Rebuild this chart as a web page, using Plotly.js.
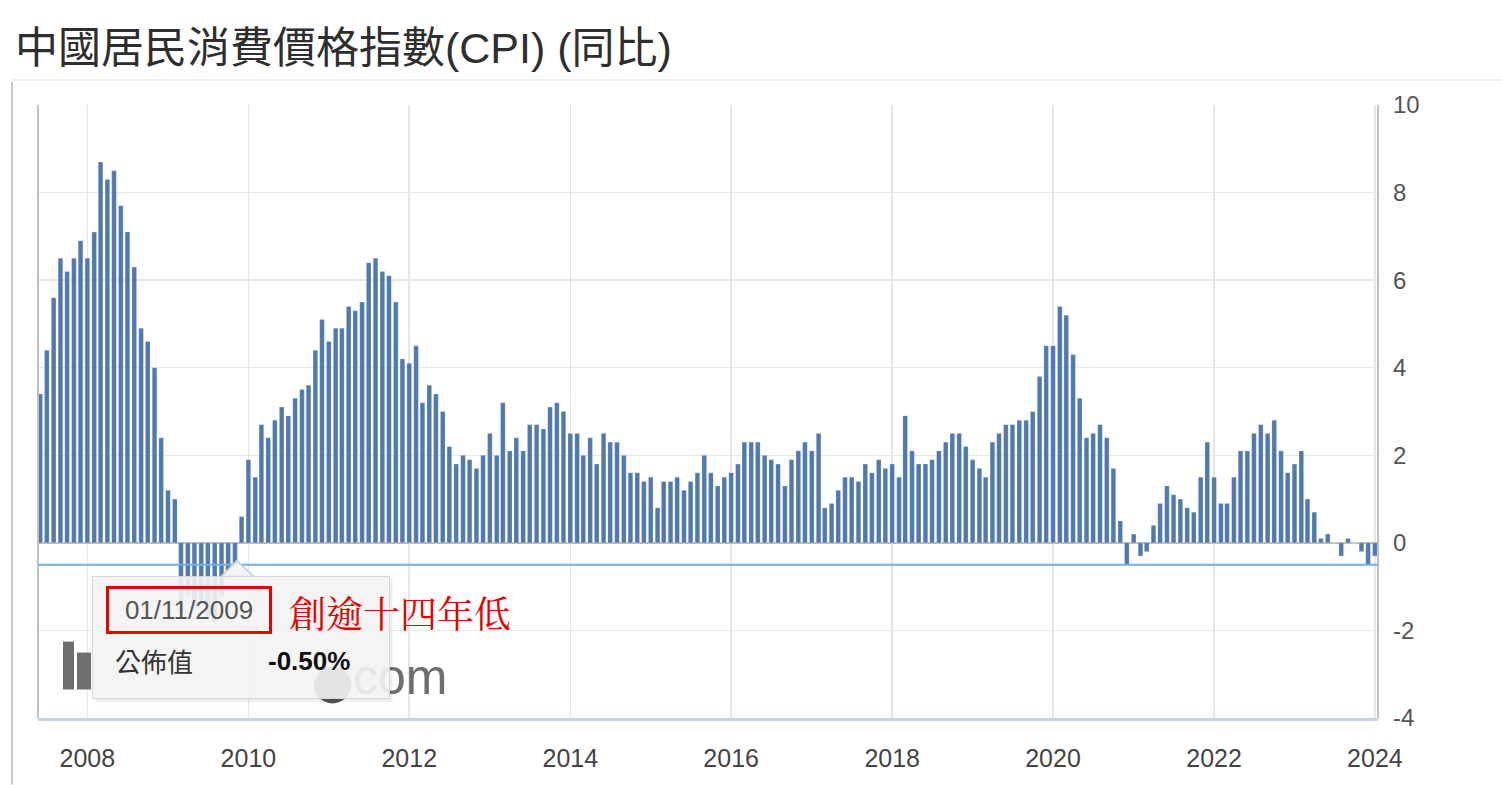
<!DOCTYPE html>
<html>
<head>
<meta charset="utf-8">
<script src="https://cdn.plot.ly/plotly-3.0.1.min.js"></script>
<style>
html,body{margin:0;padding:0;background:#fff;}
#chart{width:1502px;height:785px;}
</style>
</head>
<body>
<div id="chart"></div>
<script>
// China CPI YoY (%), by reference month; plotted at release month (reference month + 1)
const cpi2007 = [3.4, 4.4, 5.6, 6.5, 6.2, 6.5, 6.9, 6.5]; // May–Dec
const cpi2008 = [7.1, 8.7, 8.3, 8.5, 7.7, 7.1, 6.3, 4.9, 4.6, 4.0, 2.4, 1.2];
const cpi2009 = [1.0, -1.6, -1.2, -1.5, -1.4, -1.7, -1.8, -1.2, -0.8, -0.5, 0.6, 1.9];
const cpi2010 = [1.5, 2.7, 2.4, 2.8, 3.1, 2.9, 3.3, 3.5, 3.6, 4.4, 5.1, 4.6];
const cpi2011 = [4.9, 4.9, 5.4, 5.3, 5.5, 6.4, 6.5, 6.2, 6.1, 5.5, 4.2, 4.1];
const cpi2012 = [4.5, 3.2, 3.6, 3.4, 3.0, 2.2, 1.8, 2.0, 1.9, 1.7, 2.0, 2.5];
const cpi2013 = [2.0, 3.2, 2.1, 2.4, 2.1, 2.7, 2.7, 2.6, 3.1, 3.2, 3.0, 2.5];
const cpi2014 = [2.5, 2.0, 2.4, 1.8, 2.5, 2.3, 2.3, 2.0, 1.6, 1.6, 1.4, 1.5];
const cpi2015 = [0.8, 1.4, 1.4, 1.5, 1.2, 1.4, 1.6, 2.0, 1.6, 1.3, 1.5, 1.6];
const cpi2016 = [1.8, 2.3, 2.3, 2.3, 2.0, 1.9, 1.8, 1.3, 1.9, 2.1, 2.3, 2.1];
const cpi2017 = [2.5, 0.8, 0.9, 1.2, 1.5, 1.5, 1.4, 1.8, 1.6, 1.9, 1.7, 1.8];
const cpi2018 = [1.5, 2.9, 2.1, 1.8, 1.8, 1.9, 2.1, 2.3, 2.5, 2.5, 2.2, 1.9];
const cpi2019 = [1.7, 1.5, 2.3, 2.5, 2.7, 2.7, 2.8, 2.8, 3.0, 3.8, 4.5, 4.5];
const cpi2020 = [5.4, 5.2, 4.3, 3.3, 2.4, 2.5, 2.7, 2.4, 1.7, 0.5, -0.5, 0.2];
const cpi2021 = [-0.3, -0.2, 0.4, 0.9, 1.3, 1.1, 1.0, 0.8, 0.7, 1.5, 2.3, 1.5];
const cpi2022 = [0.9, 0.9, 1.5, 2.1, 2.1, 2.5, 2.7, 2.5, 2.8, 2.1, 1.6, 1.8];
const cpi2023 = [2.1, 1.0, 0.7, 0.1, 0.2, 0.0, -0.3, 0.1, 0.0, -0.2, -0.5, -0.3];

const yearBlocks = [
  [2007, 5, cpi2007], [2008, 1, cpi2008], [2009, 1, cpi2009], [2010, 1, cpi2010],
  [2011, 1, cpi2011], [2012, 1, cpi2012], [2013, 1, cpi2013], [2014, 1, cpi2014],
  [2015, 1, cpi2015], [2016, 1, cpi2016], [2017, 1, cpi2017], [2018, 1, cpi2018],
  [2019, 1, cpi2019], [2020, 1, cpi2020], [2021, 1, cpi2021], [2022, 1, cpi2022],
  [2023, 1, cpi2023]
];

const yTicks = [-4, -2, 0, 2, 4, 6, 8, 10];
const yTickText = ['-4', '-2', '0', '2', '4', '6', '8', '10'];
const highlightValue = -0.5;
const tooltipDate = '01/11/2009';
const tooltipLabel = '公佈值';
const tooltipValue = '-0.50%';
const noteText = '創逾十四年低';
const titleText = '中國居民消費價格指數(CPI) (同比)';

const dates = [], vals = [];
yearBlocks.forEach(([yr, m0, arr]) => {
  arr.forEach((v, i) => {
    let m = m0 + i + 1, y = yr;
    if (m > 12) { m -= 12; y += 1; }
    dates.push(y + '-' + String(m).padStart(2, '0') + '-01');
    vals.push(v);
  });
});

// pixel -> paper helpers (plot area 38..1378 x, 105..718.5 y)
const L = 38, R = 1378, T = 105, B = 718.5;
const px = x => (x - L) / (R - L);
const py = y => (B - y) / (B - T);

const sans = '"Liberation Sans", Arial, "Noto Sans CJK TC", sans-serif';

const trace = {
  type: 'bar', x: dates, y: vals,
  marker: { color: '#5079ad', line: { color: 'rgba(255,255,255,0.35)', width: 0.6 } },
  hoverinfo: 'skip'
};

const layout = {
  width: 1502, height: 785,
  margin: { l: L, r: 1502 - R, t: T, b: 785 - B },
  paper_bgcolor: '#ffffff', plot_bgcolor: '#ffffff',
  showlegend: false,
  bargap: 0.25,
  title: {
    text: titleText, xref: 'container', yref: 'container',
    x: 15 / 1502, xanchor: 'left', y: 1 - 48 / 785, yanchor: 'middle',
    font: { family: sans, size: 43, color: '#2e2e2e' }
  },
  xaxis: {
    type: 'date', range: ['2007-05-22', '2024-01-15'],
    tick0: '2008-01-01', dtick: 'M24', tickformat: '%Y',
    showgrid: true, gridcolor: '#e6e6e6', gridwidth: 1.5,
    ticks: '', showline: true, linecolor: '#c5d2e2', linewidth: 2.5,
    mirror: false, zeroline: false,
    ticklabelstandoff: 16,
    tickfont: { family: sans, size: 25, color: '#444444' }
  },
  yaxis: {
    range: [-4, 10], tickvals: yTicks, ticktext: yTickText, side: 'right',
    showgrid: true, gridcolor: '#e6e6e6', gridwidth: 1.5,
    zeroline: true, zerolinecolor: '#bdbdbd', zerolinewidth: 2,
    ticks: '', showline: false,
    ticklabelstandoff: 14,
    tickfont: { family: sans, size: 24, color: '#555555' }
  },
  shapes: [
    // outer frame lines
    { type: 'line', xref: 'paper', yref: 'paper', x0: px(12), x1: px(1502), y0: py(80), y1: py(80), line: { color: '#e9e9e9', width: 1.5 } },
    { type: 'line', xref: 'paper', yref: 'paper', x0: px(12), x1: px(12), y0: py(82), y1: py(785), line: { color: '#c8c8c8', width: 2 } },
    // plot borders left / right
    { type: 'line', xref: 'paper', yref: 'paper', x0: 0, x1: 0, y0: 0, y1: 1, line: { color: '#c0c0c0', width: 2 } },
    { type: 'line', xref: 'paper', yref: 'paper', x0: 1, x1: 1, y0: 0, y1: 1, line: { color: '#c0c0c0', width: 2 } },
    // highlight line at -0.5
    { type: 'line', xref: 'paper', yref: 'y', x0: 0, x1: 1, y0: highlightValue, y1: highlightValue, line: { color: '#6db0ee', width: 2 }, layer: 'above' },
    // watermark icon bars
    { type: 'rect', xref: 'paper', yref: 'paper', x0: px(63), x1: px(74), y0: py(690), y1: py(642), fillcolor: '#6e6e6e', line: { width: 0 }, layer: 'above' },
    { type: 'rect', xref: 'paper', yref: 'paper', x0: px(77), x1: px(91), y0: py(690), y1: py(653), fillcolor: '#6e6e6e', line: { width: 0 }, layer: 'above' },
    { type: 'circle', xref: 'paper', yref: 'paper', x0: px(314), x1: px(351), y0: py(704), y1: py(667), fillcolor: '#555555', line: { width: 0 }, layer: 'above' },
    // tooltip pointer
    { type: 'path', xref: 'paper', yref: 'paper',
      path: 'M ' + px(221) + ' ' + py(577) + ' L ' + px(237) + ' ' + py(561) + ' L ' + px(254) + ' ' + py(577) + ' Z',
      fillcolor: '#f4f4f4', line: { color: '#cfcfcf', width: 1.5 }, layer: 'above' }
  ],
  annotations: [
    // watermark text
    { xref: 'paper', yref: 'paper', x: px(449), y: py(677), xanchor: 'right', yanchor: 'middle',
      text: 'com', showarrow: false, font: { family: sans, size: 50, color: '#6e6e6e' } },
    // tooltip shadow
    { xref: 'paper', yref: 'paper', x: px(95), y: py(578), xanchor: 'left', yanchor: 'top',
      text: ' ', showarrow: false, width: 296, height: 122, borderpad: 0,
      bgcolor: 'rgba(0,0,0,0.07)' },
    // tooltip box
    { xref: 'paper', yref: 'paper', x: px(92), y: py(576), xanchor: 'left', yanchor: 'top',
      text: ' ', showarrow: false, width: 296, height: 121, borderpad: 0,
      bgcolor: 'rgba(244,244,244,0.9)', bordercolor: '#d6d6d6', borderwidth: 1 },
    // date with red box
    { xref: 'paper', yref: 'paper', x: px(188.5), y: py(610.5), xanchor: 'center', yanchor: 'middle',
      text: tooltipDate, showarrow: false, width: 160, height: 42, borderpad: 0,
      bordercolor: '#ee0000', borderwidth: 3,
      font: { family: sans, size: 26, color: '#555555' } },
    { xref: 'paper', yref: 'paper', x: px(113), y: py(661), xanchor: 'left', yanchor: 'middle',
      text: tooltipLabel, showarrow: false,
      font: { family: '"Noto Sans CJK TC", sans-serif', size: 26, color: '#333333' } },
    { xref: 'paper', yref: 'paper', x: px(352), y: py(661), xanchor: 'right', yanchor: 'middle',
      text: '<b>' + tooltipValue + '</b>', showarrow: false,
      font: { family: sans, size: 26, color: '#111111' } },
    // red note
    { xref: 'paper', yref: 'paper', x: px(287), y: py(612), xanchor: 'left', yanchor: 'middle',
      text: noteText, showarrow: false,
      font: { family: '"Noto Serif CJK TC", "Noto Sans CJK TC", serif', size: 37, color: '#e60000' } }
  ]
};

Plotly.newPlot('chart', [trace], layout, { displayModeBar: false, staticPlot: true });
</script>
</body>
</html>
